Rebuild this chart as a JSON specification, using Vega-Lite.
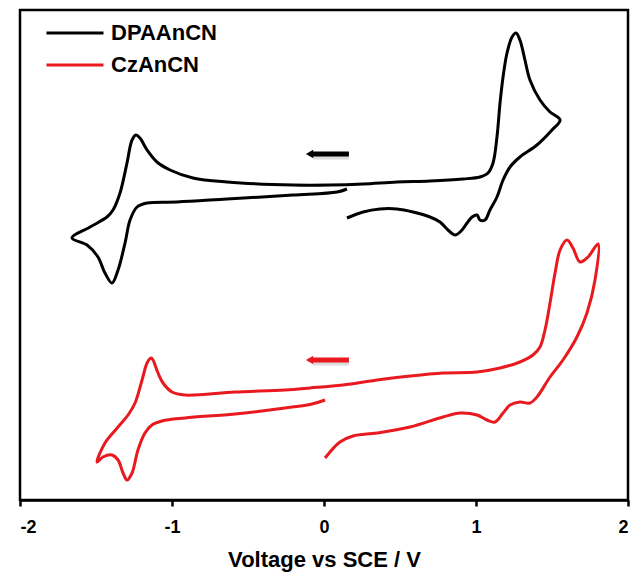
{
  "$schema": "https://vega.github.io/schema/vega-lite/v6.json",
  "width": 608,
  "height": 490,
  "autosize": {"type": "none"},
  "padding": {"left": 20, "top": 10, "right": 8, "bottom": 73},
  "background": "white",
  "config": {
    "view": {"stroke": "black", "strokeWidth": 2.5}
  },
  "data": {"values": [
      {"k":"arrow","s":"DPAAnCN","v":-0.085,"v2":0.164,"c":346,"head":-0.095},
      {"k":"arrow","s":"CzAnCN","v":-0.085,"v2":0.164,"c":140,"head":-0.095},
      {"k":"cv","s":"DPAAnCN","i":1,"v":0.151,"c":311},
      {"k":"cv","s":"DPAAnCN","i":2,"v":0.086,"c":308},
      {"k":"cv","s":"DPAAnCN","i":3,"v":-0.204,"c":305},
      {"k":"cv","s":"DPAAnCN","i":4,"v":-0.638,"c":301},
      {"k":"cv","s":"DPAAnCN","i":5,"v":-0.967,"c":298},
      {"k":"cv","s":"DPAAnCN","i":6,"v":-1.164,"c":297},
      {"k":"cv","s":"DPAAnCN","i":7,"v":-1.230,"c":293},
      {"k":"cv","s":"DPAAnCN","i":8,"v":-1.276,"c":280},
      {"k":"cv","s":"DPAAnCN","i":9,"v":-1.309,"c":257},
      {"k":"cv","s":"DPAAnCN","i":10,"v":-1.355,"c":230},
      {"k":"cv","s":"DPAAnCN","i":11,"v":-1.395,"c":217},
      {"k":"cv","s":"DPAAnCN","i":12,"v":-1.441,"c":227},
      {"k":"cv","s":"DPAAnCN","i":13,"v":-1.487,"c":243},
      {"k":"cv","s":"DPAAnCN","i":14,"v":-1.559,"c":255},
      {"k":"cv","s":"DPAAnCN","i":15,"v":-1.658,"c":262},
      {"k":"cv","s":"DPAAnCN","i":16,"v":-1.539,"c":273},
      {"k":"cv","s":"DPAAnCN","i":17,"v":-1.428,"c":283},
      {"k":"cv","s":"DPAAnCN","i":18,"v":-1.388,"c":290},
      {"k":"cv","s":"DPAAnCN","i":19,"v":-1.342,"c":307},
      {"k":"cv","s":"DPAAnCN","i":20,"v":-1.296,"c":337},
      {"k":"cv","s":"DPAAnCN","i":21,"v":-1.263,"c":360},
      {"k":"cv","s":"DPAAnCN","i":22,"v":-1.237,"c":365},
      {"k":"cv","s":"DPAAnCN","i":23,"v":-1.211,"c":362},
      {"k":"cv","s":"DPAAnCN","i":24,"v":-1.164,"c":350},
      {"k":"cv","s":"DPAAnCN","i":25,"v":-1.099,"c":338},
      {"k":"cv","s":"DPAAnCN","i":26,"v":-1.013,"c":330},
      {"k":"cv","s":"DPAAnCN","i":27,"v":-0.862,"c":322},
      {"k":"cv","s":"DPAAnCN","i":28,"v":-0.638,"c":318},
      {"k":"cv","s":"DPAAnCN","i":29,"v":-0.204,"c":315},
      {"k":"cv","s":"DPAAnCN","i":30,"v":0.039,"c":315},
      {"k":"cv","s":"DPAAnCN","i":31,"v":0.257,"c":316},
      {"k":"cv","s":"DPAAnCN","i":32,"v":0.480,"c":318},
      {"k":"cv","s":"DPAAnCN","i":33,"v":0.697,"c":319},
      {"k":"cv","s":"DPAAnCN","i":34,"v":0.914,"c":321},
      {"k":"cv","s":"DPAAnCN","i":35,"v":1.026,"c":323},
      {"k":"cv","s":"DPAAnCN","i":36,"v":1.079,"c":327},
      {"k":"cv","s":"DPAAnCN","i":37,"v":1.112,"c":337},
      {"k":"cv","s":"DPAAnCN","i":38,"v":1.138,"c":363},
      {"k":"cv","s":"DPAAnCN","i":39,"v":1.158,"c":397},
      {"k":"cv","s":"DPAAnCN","i":40,"v":1.178,"c":423},
      {"k":"cv","s":"DPAAnCN","i":41,"v":1.204,"c":447},
      {"k":"cv","s":"DPAAnCN","i":42,"v":1.237,"c":463},
      {"k":"cv","s":"DPAAnCN","i":43,"v":1.263,"c":467},
      {"k":"cv","s":"DPAAnCN","i":44,"v":1.289,"c":460},
      {"k":"cv","s":"DPAAnCN","i":45,"v":1.322,"c":440},
      {"k":"cv","s":"DPAAnCN","i":46,"v":1.355,"c":420},
      {"k":"cv","s":"DPAAnCN","i":47,"v":1.421,"c":400},
      {"k":"cv","s":"DPAAnCN","i":48,"v":1.487,"c":388},
      {"k":"cv","s":"DPAAnCN","i":49,"v":1.553,"c":380},
      {"k":"cv","s":"DPAAnCN","i":50,"v":1.500,"c":370},
      {"k":"cv","s":"DPAAnCN","i":51,"v":1.401,"c":355},
      {"k":"cv","s":"DPAAnCN","i":52,"v":1.289,"c":343},
      {"k":"cv","s":"DPAAnCN","i":53,"v":1.224,"c":333},
      {"k":"cv","s":"DPAAnCN","i":54,"v":1.178,"c":320},
      {"k":"cv","s":"DPAAnCN","i":55,"v":1.138,"c":303},
      {"k":"cv","s":"DPAAnCN","i":56,"v":1.092,"c":290},
      {"k":"cv","s":"DPAAnCN","i":57,"v":1.059,"c":280},
      {"k":"cv","s":"DPAAnCN","i":58,"v":1.026,"c":280},
      {"k":"cv","s":"DPAAnCN","i":59,"v":1.007,"c":285},
      {"k":"cv","s":"DPAAnCN","i":60,"v":0.974,"c":283},
      {"k":"cv","s":"DPAAnCN","i":61,"v":0.941,"c":277},
      {"k":"cv","s":"DPAAnCN","i":62,"v":0.908,"c":270},
      {"k":"cv","s":"DPAAnCN","i":63,"v":0.862,"c":265},
      {"k":"cv","s":"DPAAnCN","i":64,"v":0.816,"c":270},
      {"k":"cv","s":"DPAAnCN","i":65,"v":0.763,"c":278},
      {"k":"cv","s":"DPAAnCN","i":66,"v":0.697,"c":283},
      {"k":"cv","s":"DPAAnCN","i":67,"v":0.586,"c":288},
      {"k":"cv","s":"DPAAnCN","i":68,"v":0.480,"c":291},
      {"k":"cv","s":"DPAAnCN","i":69,"v":0.368,"c":291},
      {"k":"cv","s":"DPAAnCN","i":70,"v":0.257,"c":288},
      {"k":"cv","s":"DPAAnCN","i":71,"v":0.151,"c":282},
      {"k":"cv","s":"CzAnCN","i":1,"v":0.007,"c":100},
      {"k":"cv","s":"CzAnCN","i":2,"v":-0.079,"c":96},
      {"k":"cv","s":"CzAnCN","i":3,"v":-0.257,"c":92},
      {"k":"cv","s":"CzAnCN","i":4,"v":-0.586,"c":86},
      {"k":"cv","s":"CzAnCN","i":5,"v":-0.914,"c":82},
      {"k":"cv","s":"CzAnCN","i":6,"v":-1.066,"c":79},
      {"k":"cv","s":"CzAnCN","i":7,"v":-1.132,"c":75},
      {"k":"cv","s":"CzAnCN","i":8,"v":-1.178,"c":67},
      {"k":"cv","s":"CzAnCN","i":9,"v":-1.224,"c":50},
      {"k":"cv","s":"CzAnCN","i":10,"v":-1.263,"c":27},
      {"k":"cv","s":"CzAnCN","i":11,"v":-1.296,"c":20},
      {"k":"cv","s":"CzAnCN","i":12,"v":-1.322,"c":27},
      {"k":"cv","s":"CzAnCN","i":13,"v":-1.355,"c":40},
      {"k":"cv","s":"CzAnCN","i":14,"v":-1.395,"c":45},
      {"k":"cv","s":"CzAnCN","i":15,"v":-1.454,"c":43},
      {"k":"cv","s":"CzAnCN","i":16,"v":-1.493,"c":38},
      {"k":"cv","s":"CzAnCN","i":17,"v":-1.441,"c":57},
      {"k":"cv","s":"CzAnCN","i":18,"v":-1.355,"c":73},
      {"k":"cv","s":"CzAnCN","i":19,"v":-1.289,"c":85},
      {"k":"cv","s":"CzAnCN","i":20,"v":-1.243,"c":97},
      {"k":"cv","s":"CzAnCN","i":21,"v":-1.197,"c":120},
      {"k":"cv","s":"CzAnCN","i":22,"v":-1.164,"c":137},
      {"k":"cv","s":"CzAnCN","i":23,"v":-1.138,"c":142},
      {"k":"cv","s":"CzAnCN","i":24,"v":-1.125,"c":140},
      {"k":"cv","s":"CzAnCN","i":25,"v":-1.092,"c":127},
      {"k":"cv","s":"CzAnCN","i":26,"v":-1.059,"c":117},
      {"k":"cv","s":"CzAnCN","i":27,"v":-1.000,"c":108},
      {"k":"cv","s":"CzAnCN","i":28,"v":-0.914,"c":105},
      {"k":"cv","s":"CzAnCN","i":29,"v":-0.586,"c":108},
      {"k":"cv","s":"CzAnCN","i":30,"v":-0.257,"c":110},
      {"k":"cv","s":"CzAnCN","i":31,"v":-0.092,"c":112},
      {"k":"cv","s":"CzAnCN","i":32,"v":0.125,"c":115},
      {"k":"cv","s":"CzAnCN","i":33,"v":0.349,"c":120},
      {"k":"cv","s":"CzAnCN","i":34,"v":0.566,"c":124},
      {"k":"cv","s":"CzAnCN","i":35,"v":0.783,"c":127},
      {"k":"cv","s":"CzAnCN","i":36,"v":1.007,"c":128},
      {"k":"cv","s":"CzAnCN","i":37,"v":1.158,"c":132},
      {"k":"cv","s":"CzAnCN","i":38,"v":1.289,"c":138},
      {"k":"cv","s":"CzAnCN","i":39,"v":1.375,"c":145},
      {"k":"cv","s":"CzAnCN","i":40,"v":1.421,"c":153},
      {"k":"cv","s":"CzAnCN","i":41,"v":1.454,"c":170},
      {"k":"cv","s":"CzAnCN","i":42,"v":1.487,"c":197},
      {"k":"cv","s":"CzAnCN","i":43,"v":1.520,"c":227},
      {"k":"cv","s":"CzAnCN","i":44,"v":1.553,"c":250},
      {"k":"cv","s":"CzAnCN","i":45,"v":1.599,"c":260},
      {"k":"cv","s":"CzAnCN","i":46,"v":1.638,"c":252},
      {"k":"cv","s":"CzAnCN","i":47,"v":1.684,"c":238},
      {"k":"cv","s":"CzAnCN","i":48,"v":1.737,"c":243},
      {"k":"cv","s":"CzAnCN","i":49,"v":1.803,"c":256},
      {"k":"cv","s":"CzAnCN","i":50,"v":1.783,"c":220},
      {"k":"cv","s":"CzAnCN","i":51,"v":1.730,"c":187},
      {"k":"cv","s":"CzAnCN","i":52,"v":1.664,"c":163},
      {"k":"cv","s":"CzAnCN","i":53,"v":1.572,"c":140},
      {"k":"cv","s":"CzAnCN","i":54,"v":1.487,"c":123},
      {"k":"cv","s":"CzAnCN","i":55,"v":1.401,"c":103},
      {"k":"cv","s":"CzAnCN","i":56,"v":1.355,"c":97},
      {"k":"cv","s":"CzAnCN","i":57,"v":1.289,"c":98},
      {"k":"cv","s":"CzAnCN","i":58,"v":1.224,"c":95},
      {"k":"cv","s":"CzAnCN","i":59,"v":1.178,"c":87},
      {"k":"cv","s":"CzAnCN","i":60,"v":1.125,"c":78},
      {"k":"cv","s":"CzAnCN","i":61,"v":1.072,"c":80},
      {"k":"cv","s":"CzAnCN","i":62,"v":1.007,"c":85},
      {"k":"cv","s":"CzAnCN","i":63,"v":0.895,"c":87},
      {"k":"cv","s":"CzAnCN","i":64,"v":0.783,"c":83},
      {"k":"cv","s":"CzAnCN","i":65,"v":0.566,"c":73},
      {"k":"cv","s":"CzAnCN","i":66,"v":0.349,"c":67},
      {"k":"cv","s":"CzAnCN","i":67,"v":0.191,"c":64},
      {"k":"cv","s":"CzAnCN","i":68,"v":0.105,"c":58},
      {"k":"cv","s":"CzAnCN","i":69,"v":0.007,"c":42}
  ]},
  "encoding": {
    "x": {
      "field": "v", "type": "quantitative",
      "scale": {"domain": [-2, 2], "nice": false, "zero": false},
      "axis": {
        "values": [-2, -1, 0, 1, 2],
        "labelExpr": "replace(datum.label, '\u2212', '-')",
        "title": "Voltage vs SCE / V",
        "titleFont": "Liberation Sans", "labelFont": "Liberation Sans",
        "titleFontSize": 22, "titleFontWeight": "bold", "titleColor": "black", "titlePadding": 13,
        "labelFontSize": 18, "labelFontWeight": "bold", "labelColor": "black", "labelPadding": 12,
        "tickColor": "black", "tickWidth": 2.5, "tickSize": 6,
        "domainColor": "black", "domainWidth": 2.5,
        "grid": false
      }
    },
    "y": {
      "field": "c", "type": "quantitative",
      "scale": {"domain": [0, 490], "nice": false, "zero": false},
      "axis": null
    },
    "color": {
      "field": "s", "type": "nominal",
      "scale": {"domain": ["DPAAnCN", "CzAnCN"], "range": ["#000000", "#e8191f"]},
      "legend": {
        "title": null, "orient": "none", "legendX": 25, "legendY": 8,
        "symbolType": "stroke", "symbolSize": 3249, "symbolStrokeWidth": 3,
        "labelFont": "Liberation Sans",
        "labelFontSize": 22, "labelFontWeight": "bold", "labelColor": "black",
        "labelOffset": 6, "clipHeight": 30
      }
    }
  },
  "layer": [
    {
      "transform": [{"filter": "datum.k == 'arrow'"}],
      "mark": {"type": "rule", "strokeWidth": 5, "opacity": 0.3, "xOffset": 2, "yOffset": 3},
      "encoding": {
        "x2": {"field": "v2"},
        "color": {"value": "#888888"}
      }
    },
    {
      "transform": [{"filter": "datum.k == 'arrow'"}],
      "mark": {"type": "rule", "strokeWidth": 5},
      "encoding": {
        "x2": {"field": "v2"}
      }
    },
    {
      "transform": [{"filter": "datum.k == 'arrow'"}],
      "mark": {"type": "point", "shape": "triangle-left", "filled": true, "size": 70, "opacity": 1},
      "encoding": {
        "x": {"field": "head", "type": "quantitative"}
      }
    },
    {
      "transform": [{"filter": "datum.k == 'cv'"}],
      "mark": {"type": "line", "strokeWidth": 3, "interpolate": "catmull-rom"},
      "encoding": {
        "order": {"field": "i", "type": "quantitative"}
      }
    }
  ]
}
